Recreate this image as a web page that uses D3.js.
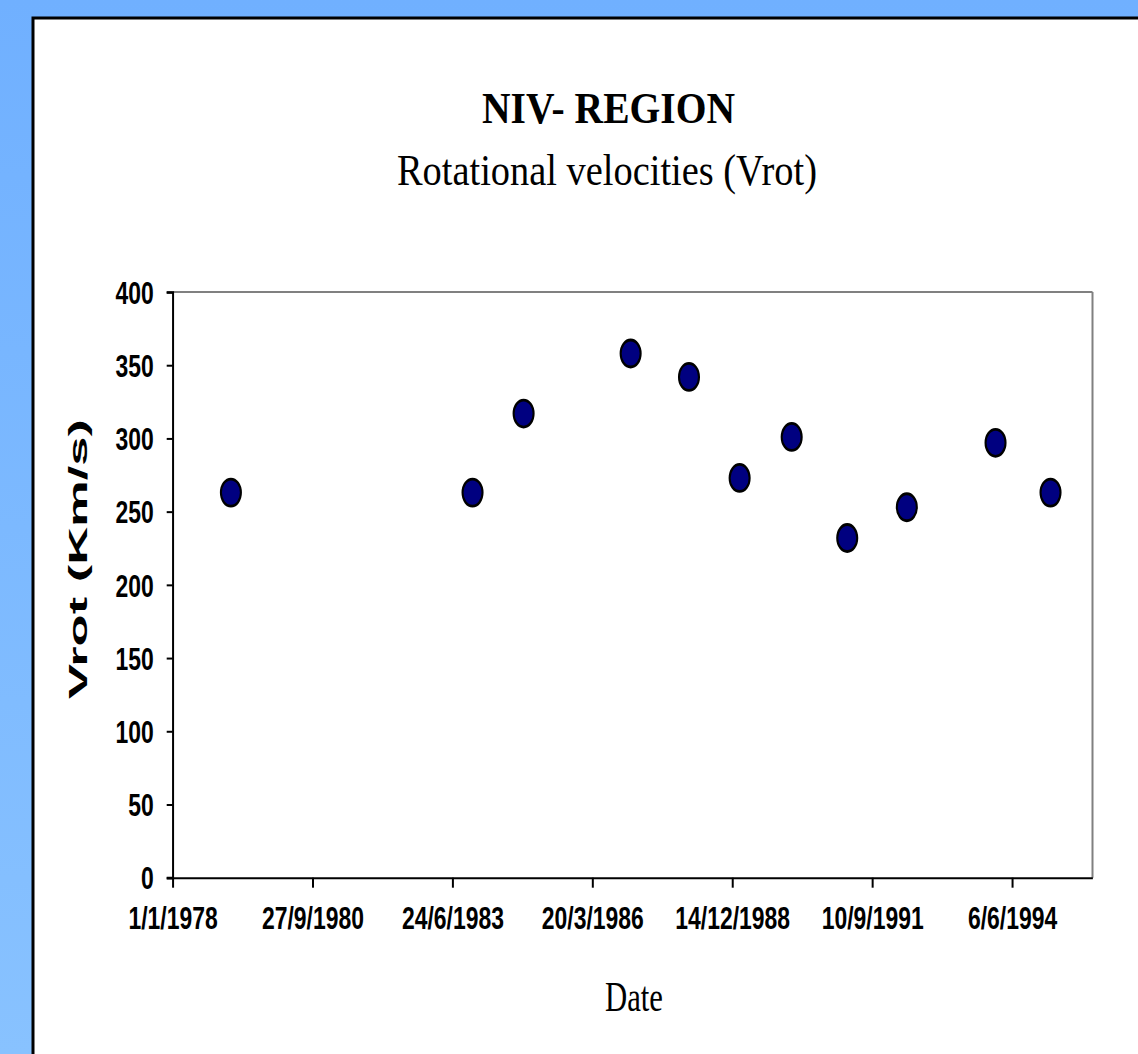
<!DOCTYPE html>
<html>
<head>
<meta charset="utf-8">
<script src="https://cdn.jsdelivr.net/npm/d3@7"></script>
<style>
  html, body { margin: 0; padding: 0; background: #fff; }
  svg { display: block; }
</style>
</head>
<body>
<div id="chart"></div>
<script>
// observation dates and rotational velocities
const dates = ['1979-02-21', '1983-11-14', '1984-11-13', '1986-12-18', '1988-02-08', '1989-02-04',
  '1990-02-11', '1991-03-15', '1992-05-14', '1994-02-07', '1995-03-07'];
const vrot = [263, 263, 317, 358, 342, 273, 301, 232, 253, 297, 263];
const yTicks = [0, 50, 100, 150, 200, 250, 300, 350, 400];
const xStart = '1978-01-01';
const xEnd = '1996-01-01';

const W = 1138, H = 1054;
const SX = 0.74; // the original picture is squeezed horizontally
const plot = { left: 172.7, right: 1092.5, top: 292, bottom: 877.7 };

const parse = d3.utcParse('%Y-%m-%d');
const points = dates.map((d, i) => ({ date: parse(d), value: vrot[i] }));

const svg = d3.select('#chart')
  .append('svg')
  .attr('width', W)
  .attr('height', H);

// blue background + white panel
const grad = svg.append('defs').append('linearGradient')
  .attr('id', 'bg').attr('x1', 0).attr('y1', 0).attr('x2', 0).attr('y2', 1);
grad.append('stop').attr('offset', '0%').attr('stop-color', '#70b0ff');
grad.append('stop').attr('offset', '100%').attr('stop-color', '#88c2ff');
svg.append('rect').attr('width', W).attr('height', H).attr('fill', 'url(#bg)');
svg.append('rect').attr('x', 33).attr('y', 18).attr('width', W).attr('height', H)
  .attr('fill', '#fff').attr('stroke', '#000').attr('stroke-width', 3);

const g = svg.append('g').attr('transform', `scale(${SX},1)`);

const x = d3.scaleUtc()
  .domain([parse(xStart), parse(xEnd)])
  .range([plot.left / SX, plot.right / SX]);
const y = d3.scaleLinear()
  .domain([0, 400])
  .range([plot.bottom, plot.top]);

const xTicks = d3.range(0, 7).map(i => d3.utcDay.offset(parse(xStart), i * 1000));
const fmt = d => `${d.getUTCDate()}/${d.getUTCMonth() + 1}/${d.getUTCFullYear()}`;

// frame: grey top/right, black axes
g.append('line')
  .attr('x1', x.range()[0]).attr('x2', x.range()[1])
  .attr('y1', plot.top).attr('y2', plot.top)
  .attr('stroke', '#808080').attr('stroke-width', 2);
g.append('line')
  .attr('x1', x.range()[1]).attr('x2', x.range()[1])
  .attr('y1', plot.top).attr('y2', plot.bottom)
  .attr('stroke', '#808080').attr('stroke-width', 2 / SX);

const yAxis = g.append('g')
  .attr('transform', `translate(${x.range()[0]},0)`)
  .call(d3.axisLeft(y).tickValues(yTicks).tickSize(6 / SX).tickPadding(13 / SX));
yAxis.select('.domain').attr('stroke', '#000').attr('stroke-width', 2 / SX);
yAxis.selectAll('.tick line').attr('stroke', '#000').attr('stroke-width', 2);
yAxis.selectAll('.tick text')
  .attr('font-family', '"Liberation Sans", Arial, sans-serif')
  .attr('font-weight', 'bold')
  .attr('font-size', 31)
  .attr('fill', '#000')
  .attr('dy', '0.36em');

const xAxis = g.append('g')
  .attr('transform', `translate(0,${plot.bottom})`)
  .call(d3.axisBottom(x).tickValues(xTicks).tickFormat(fmt).tickSize(10).tickSizeOuter(0).tickPadding(19));
xAxis.select('.domain').attr('stroke', '#000').attr('stroke-width', 2);
xAxis.selectAll('.tick line').attr('stroke', '#000').attr('stroke-width', 2 / SX);
xAxis.selectAll('.tick text')
  .attr('font-family', '"Liberation Sans", Arial, sans-serif')
  .attr('font-weight', 'bold')
  .attr('font-size', 31)
  .attr('fill', '#000')
  .attr('dy', '0.72em');

// points
g.append('g')
  .selectAll('circle')
  .data(points)
  .join('circle')
  .attr('cx', d => x(d.date))
  .attr('cy', d => y(d.value))
  .attr('r', 13.5)
  .attr('fill', '#000080')
  .attr('stroke', '#000')
  .attr('stroke-width', 2.8);

// titles
g.append('text')
  .attr('x', 608.5 / SX).attr('y', 123)
  .attr('text-anchor', 'middle')
  .attr('font-family', '"Liberation Serif", "Times New Roman", serif')
  .attr('font-weight', 'bold')
  .attr('font-size', 45)
  .attr('textLength', 253 / SX)
  .attr('lengthAdjust', 'spacingAndGlyphs')
  .text('NIV- REGION');

g.append('text')
  .attr('x', 607 / SX).attr('y', 185)
  .attr('text-anchor', 'middle')
  .attr('font-family', '"Liberation Serif", "Times New Roman", serif')
  .attr('font-size', 44)
  .attr('textLength', 420 / SX)
  .attr('lengthAdjust', 'spacingAndGlyphs')
  .text('Rotational velocities (Vrot)');

g.append('text')
  .attr('x', 634 / SX).attr('y', 1011)
  .attr('text-anchor', 'middle')
  .attr('font-family', '"Liberation Serif", "Times New Roman", serif')
  .attr('font-size', 42)
  .attr('textLength', 58 / SX)
  .attr('lengthAdjust', 'spacingAndGlyphs')
  .text('Date');

g.append('text')
  .attr('transform', `translate(${87 / SX},559) rotate(-90)`)
  .attr('text-anchor', 'middle')
  .attr('font-family', '"Liberation Sans", Arial, sans-serif')
  .attr('font-weight', 'bold')
  .attr('font-size', 34)
  .attr('textLength', 280)
  .attr('lengthAdjust', 'spacingAndGlyphs')
  .text('Vrot (Km/s)');
</script>
</body>
</html>
